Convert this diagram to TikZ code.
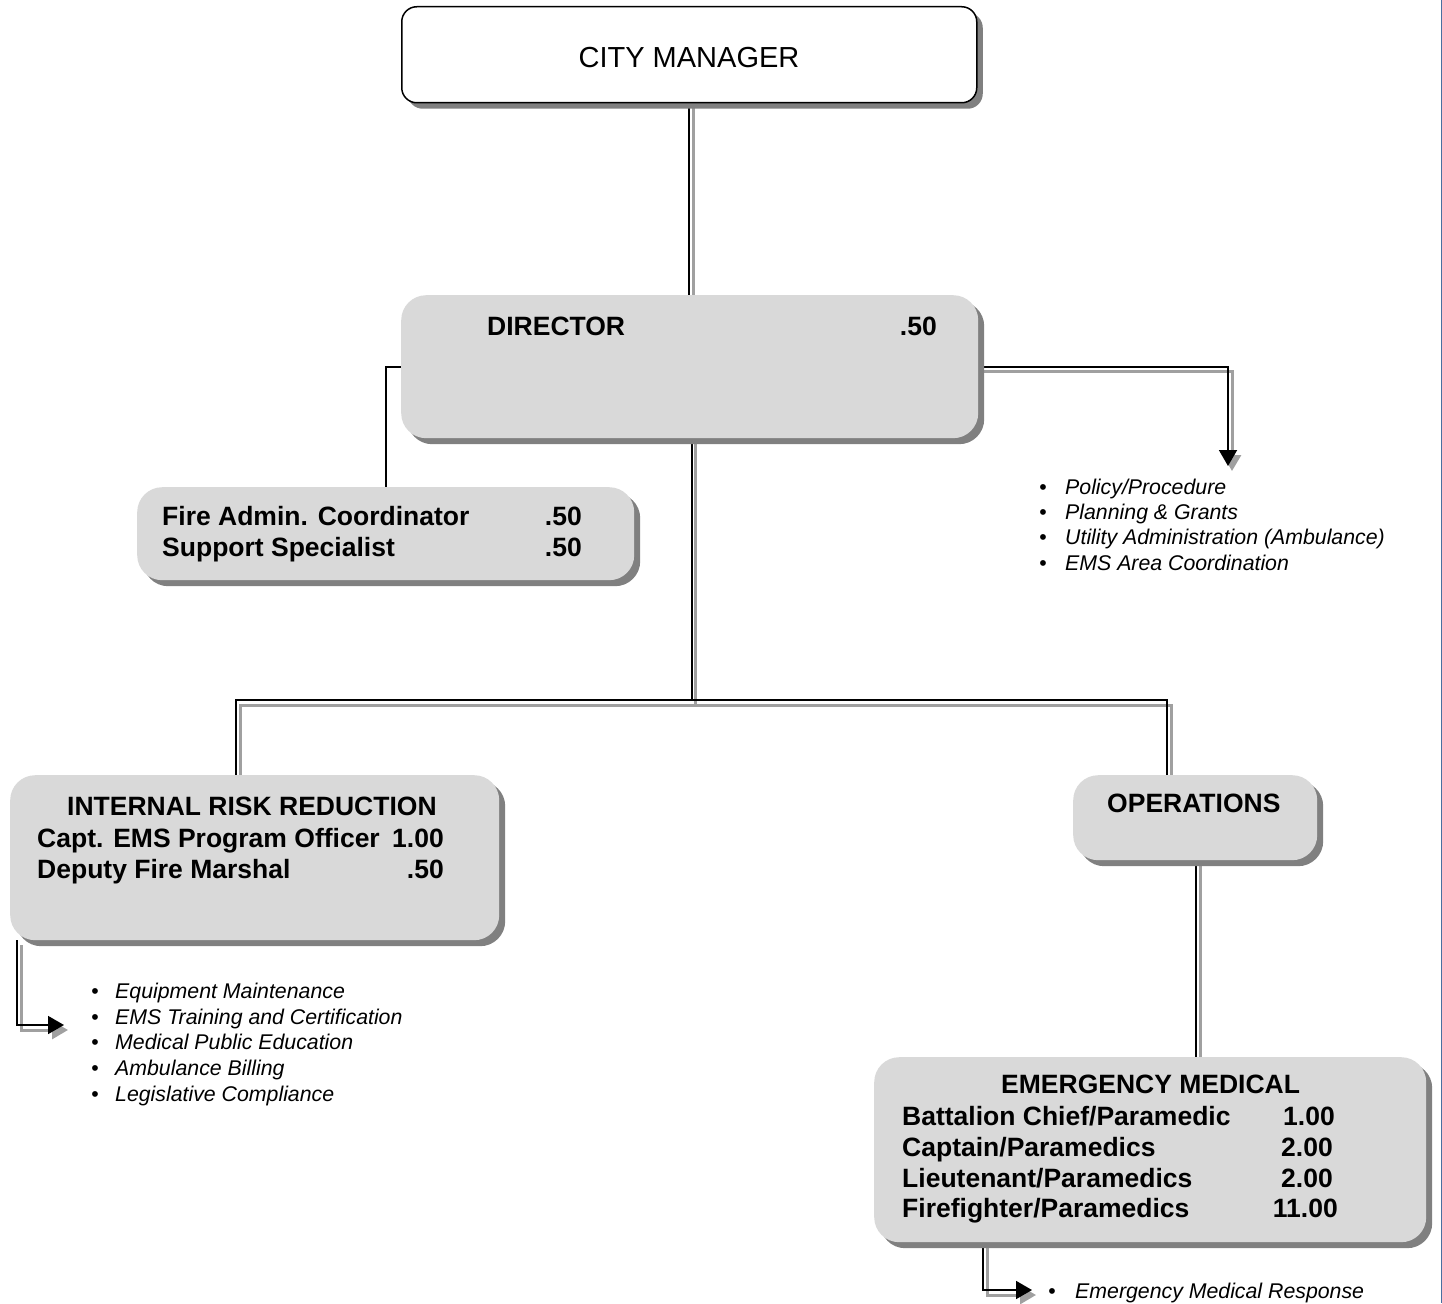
\documentclass[tikz,border=0pt]{standalone}
\usepackage{fontspec}
\setmainfont{Liberation Sans}
\usetikzlibrary{arrows.meta,shadows}
\pgfdeclarelayer{background}
\pgfsetlayers{background,main}
\definecolor{boxgray}{HTML}{D9D9D9}
\definecolor{shadowgray}{HTML}{808080}
\definecolor{linkshadow}{HTML}{A0A0A0}
\definecolor{edgeblue}{HTML}{4A6FA0}
\begin{document}
\begin{tikzpicture}[x=1pt,y=-1pt,
  box/.style={fill=boxgray, rounded corners=25pt, inner sep=0pt, anchor=north west,
    drop shadow={shadow xshift=6pt, shadow yshift=-6pt, fill=shadowgray, opacity=1}},
  topbox/.style={box, fill=white, draw=black, line width=1.5pt, rounded corners=15pt},
  head/.style={inner sep=0pt, anchor=base west, font=\fontsize{26.5}{31}\selectfont\bfseries},
  num/.style={inner sep=0pt, anchor=base east, font=\fontsize{26.5}{31}\selectfont\bfseries},
  item/.style={inner sep=0pt, anchor=base west, font=\fontsize{21.3}{25}\selectfont\itshape},
  dot/.style={inner sep=0pt, anchor=base, font=\fontsize{21.3}{25}\selectfont},
  link/.style={draw=black, line width=1.8pt},
  linkshade/.style={draw=linkshadow, line width=3pt,
    transform canvas={xshift=4pt, yshift=-5pt}},
  tip/.style={-{Triangle[width=18pt,length=16pt]}}
]
\useasboundingbox (0,0) rectangle (1442,1303);
\draw[edgeblue, line width=1.2pt] (1441.2,0) -- (1441.2,1303);

% boxes
\node[topbox, minimum width=575pt, minimum height=96pt] (cm) at (401,6) {};
\node[box, minimum width=577pt, minimum height=143pt] (dir) at (401,295) {};
\node[box, minimum width=497pt, minimum height=93pt] (fac) at (137,487) {};
\node[box, minimum width=489pt, minimum height=165pt] (irr) at (10,775) {};
\node[box, minimum width=244pt, minimum height=85pt] (ops) at (1073,775) {};
\node[box, minimum width=552pt, minimum height=185pt] (em) at (874,1057) {};

% box texts
\node[inner sep=0pt, anchor=base, font=\fontsize{29}{34}\selectfont] (cmt) at (689,68) {CITY MANAGER};
\node[head] (dirt) at (487,335) {DIRECTOR};
\node[num] (dirn) at (937,335) {.50};
\node[head] (fac1) at (162,525) {Fire Admin. Coordinator};
\node[num] (fac1n) at (582,525) {.50};
\node[head] (fac2) at (162,556) {Support Specialist};
\node[num] (fac2n) at (582,556) {.50};
\node[head] (irrt) at (67,815) {INTERNAL RISK REDUCTION};
\node[head] (irr1) at (37,847) {Capt. EMS Program Officer};
\node[num] (irr1n) at (444,847) {1.00};
\node[head] (irr2) at (37,878) {Deputy Fire Marshal};
\node[num] (irr2n) at (444,878) {.50};
\node[head] (opst) at (1107,812) {OPERATIONS};
\node[head] (emt) at (1001,1093) {EMERGENCY MEDICAL};
\node[head] (em1) at (902,1125) {Battalion Chief/Paramedic};
\node[num] (em1n) at (1335,1125) {1.00};
\node[head] (em2) at (902,1156) {Captain/Paramedics};
\node[num] (em2n) at (1333,1156) {2.00};
\node[head] (em3) at (902,1187) {Lieutenant/Paramedics};
\node[num] (em3n) at (1333,1187) {2.00};
\node[head] (em4) at (902,1217) {Firefighter/Paramedics};
\node[num] (em4n) at (1338,1217) {11.00};

% duty lists
\node[dot] (pb1) at (1043,494) {\textbullet};
\node[item] (p1) at (1065,494) {Policy/Procedure};
\node[dot] (pb2) at (1043,519) {\textbullet};
\node[item] (p2) at (1065,519) {Planning \& Grants};
\node[dot] (pb3) at (1043,544) {\textbullet};
\node[item] (p3) at (1065,544) {Utility Administration (Ambulance)};
\node[dot] (pb4) at (1043,570) {\textbullet};
\node[item] (p4) at (1065,570) {EMS Area Coordination};

\node[dot] (rb1) at (95,998) {\textbullet};
\node[item] (r1) at (115,998) {Equipment Maintenance};
\node[dot] (rb2) at (95,1024) {\textbullet};
\node[item] (r2) at (115,1024) {EMS Training and Certification};
\node[dot] (rb3) at (95,1049) {\textbullet};
\node[item] (r3) at (115,1049) {Medical Public Education};
\node[dot] (rb4) at (95,1075) {\textbullet};
\node[item] (r4) at (115,1075) {Ambulance Billing};
\node[dot] (rb5) at (95,1101) {\textbullet};
\node[item] (r5) at (115,1101) {Legislative Compliance};

\node[dot] (eb1) at (1052,1298) {\textbullet};
\node[item] (e1) at (1075,1298) {Emergency Medical Response};

% connector bends and arrow ends
\coordinate (busL) at (236,700);
\coordinate (busR) at (1167,700);
\coordinate (polArrow) at (1228,466);
\coordinate (irrArrow) at (64,1025);
\coordinate (emArrow) at (1032,1290);

\begin{pgfonlayer}{background}
  % shaded copies of the connectors
  \draw[linkshade] (cm.south) -- (cm.south |- dir.north);
  \draw[linkshade] ([xshift=2pt]dir.south) -- ([xshift=2pt]dir.south |- busL);
  \draw[linkshade] (busL |- irr.north) -- (busL) -- (busR) -- (busR |- ops.north);
  \draw[linkshade] ([xshift=1pt]ops.south) -- ([xshift=1pt]ops.south |- em.north);
  \draw[linkshade, tip] (dir.east) -| (polArrow);
  \draw[linkshade, tip] ([xshift=7pt]irr.south west) |- (irrArrow);
  \draw[linkshade, tip] ([xshift=109pt]em.south west) |- (emArrow);
  % connectors
  \draw[link] (cm.south) -- (cm.south |- dir.north);
  \draw[link] ([xshift=2pt]dir.south) -- ([xshift=2pt]dir.south |- busL);
  \draw[link] (busL |- irr.north) -- (busL) -- (busR) -- (busR |- ops.north);
  \draw[link] ([xshift=1pt]ops.south) -- ([xshift=1pt]ops.south |- em.north);
  \draw[link] (dir.west) -| (fac.north);
  \draw[link, tip] (dir.east) -| (polArrow);
  \draw[link, tip] ([xshift=7pt]irr.south west) |- (irrArrow);
  \draw[link, tip] ([xshift=109pt]em.south west) |- (emArrow);
\end{pgfonlayer}
\end{tikzpicture}
\end{document}
